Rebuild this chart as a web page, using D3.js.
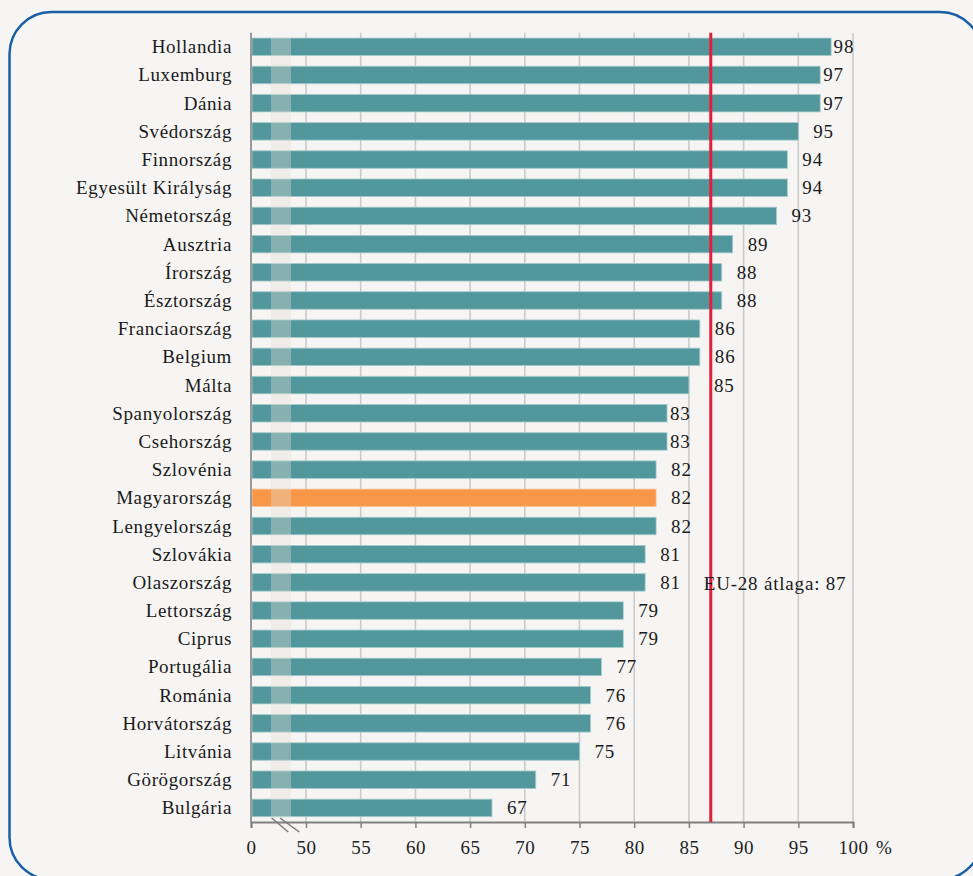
<!DOCTYPE html>
<html><head><meta charset="utf-8">
<script src="https://cdn.jsdelivr.net/npm/d3@7"></script>
<style>
html,body{margin:0;padding:0;background:#f6f5f3;}
svg{display:block;font-family:"Liberation Serif","Times New Roman",serif;}
</style></head>
<body><svg id="c" width="973" height="876"></svg>
<script>
const countries = ["Hollandia","Luxemburg","Dánia","Svédország","Finnország","Egyesült Királyság","Németország","Ausztria","Írország","Észtország","Franciaország","Belgium","Málta","Spanyolország","Csehország","Szlovénia","Magyarország","Lengyelország","Szlovákia","Olaszország","Lettország","Ciprus","Portugália","Románia","Horvátország","Litvánia","Görögország","Bulgária"];
const values = [98,97,97,95,94,94,93,89,88,88,86,86,85,83,83,82,82,82,81,81,79,79,77,76,76,75,71,67];
const highlight = ["Magyarország"];
const euAverage = 87;
const euLabel = "EU-28 átlaga: ";
const tickValues = [0,50,55,60,65,70,75,80,85,90,95,100];
const unitLabel = "%";
// label nudges (px) where the original places value labels differently
const labelNudge = {"Hollandia":2.5,"Luxemburg":3,"Dánia":3,"Spanyolország":3,"Csehország":3,"Málta":25};

(function(){
const svg = d3.select("#c");
const W = 973, H = 876;
svg.append("rect").attr("width",W).attr("height",H).attr("fill","#f6f5f3");
// rounded frame
svg.append("rect").attr("x",9.5).attr("y",12).attr("width",972.5).attr("height",867.5)
  .attr("rx",42).attr("ry",42).attr("fill","none").attr("stroke","#185fa6").attr("stroke-width",2.5);

const x = d3.scaleLinear().domain([0,50,100]).range([251,306,853]);
const y = d3.scaleBand().domain(countries).range([32.7,822]).paddingInner(0.38).paddingOuter(0.19);
const yTop = 32.7, yBottom = 822;

// gridlines
svg.append("g").selectAll("line").data(tickValues.filter(t=>t>=50)).join("line")
  .attr("x1",d=>x(d)).attr("x2",d=>x(d)).attr("y1",yTop).attr("y2",yBottom)
  .attr("stroke","#cbcbcb").attr("stroke-width",1.6);

// bars
const data = countries.map((c,i)=>({c, v:values[i]}));
svg.append("g").selectAll("rect").data(data).join("rect")
  .attr("x",x(0)+1).attr("y",d=>y(d.c)).attr("height",y.bandwidth())
  .attr("width",d=>x(d.v)-x(0)-1)
  .attr("fill",d=>highlight.includes(d.c)?"#f89747":"#52979c")
  .attr("stroke",d=>highlight.includes(d.c)?"#fbc49a":"#a4cbcd").attr("stroke-width",0.8);

// break band
svg.append("rect").attr("x",x(0)+20).attr("width",20)
  .attr("y",37).attr("height",781)
  .attr("fill","#e6e0d5").attr("opacity",0.36);

// left axis line
svg.append("line").attr("x1",x(0)).attr("x2",x(0)).attr("y1",yTop).attr("y2",yBottom)
  .attr("stroke","#9a9a9a").attr("stroke-width",2);

// x axis
const axis = d3.axisBottom(x).tickValues(tickValues).tickSize(6).tickPadding(13).tickFormat(d3.format("d"));
const gx = svg.append("g").attr("transform",`translate(0,${yBottom})`).call(axis);
gx.attr("font-family","Liberation Serif, serif").attr("font-size",19);
gx.select(".domain").attr("stroke","#808080").attr("stroke-width",2);
gx.selectAll(".tick line").attr("stroke","#808080").attr("stroke-width",1.5);
gx.selectAll(".tick text").attr("fill","#222").attr("letter-spacing",0.5);
svg.append("text").attr("x",x(100)+23).attr("y",yBottom+19+0.71*19).attr("font-size",19).attr("fill","#222").text(unitLabel);

// break marks
const bx = x(0);
[[20.7,37.3],[29,48.3]].forEach(([a,b])=>{
  svg.append("line").attr("x1",bx+a).attr("y1",yBottom-4).attr("x2",bx+b).attr("y2",yBottom+10)
    .attr("stroke","#7a7a7a").attr("stroke-width",1.5);
});

// country labels
svg.append("g").selectAll("text").data(data).join("text")
  .attr("x",232).attr("y",d=>y(d.c)+y.bandwidth()/2+6.5)
  .attr("text-anchor","end").attr("font-size",19).attr("letter-spacing",0.6).attr("fill","#1a1a1a")
  .text(d=>d.c);

// value labels
svg.append("g").selectAll("text").data(data).join("text")
  .attr("x",d=>x(d.v)+(labelNudge[d.c]!==undefined?labelNudge[d.c]:15))
  .attr("y",d=>y(d.c)+y.bandwidth()/2+6.5)
  .attr("font-size",19).attr("letter-spacing",0.8).attr("fill","#1a1a1a")
  .text(d=>d.v);

// EU average line
svg.append("line").attr("x1",x(euAverage)).attr("x2",x(euAverage)).attr("y1",yTop).attr("y2",yBottom)
  .attr("stroke","#e51d3d").attr("stroke-width",3);
svg.append("text").attr("x",x(euAverage)-7).attr("y",y("Olaszország")+y.bandwidth()/2+7.5)
  .attr("font-size",19).attr("letter-spacing",0.8).attr("fill","#1a1a1a").text(euLabel+euAverage);
})();
</script></body></html>
